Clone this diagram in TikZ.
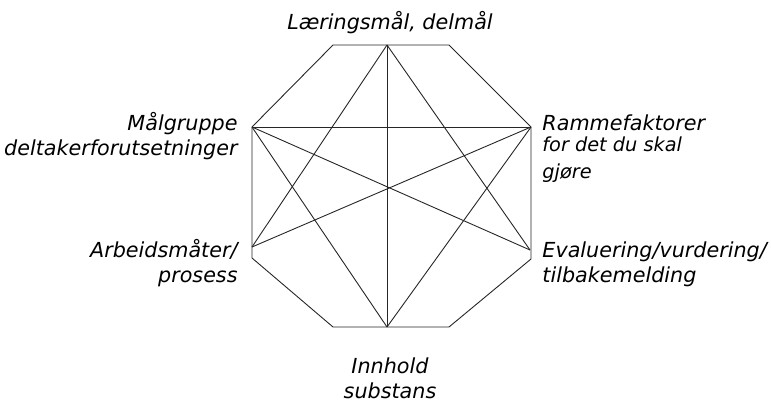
\documentclass[tikz,border=0pt]{standalone}
\usepackage{fontspec}
\setmainfont{DejaVu Sans}
\usetikzlibrary{positioning}

\begin{document}
\begin{tikzpicture}[x=1pt, y=-1pt, line width=0.9pt, color=black!85,
    lbl/.style={font=\fontsize{20.7}{25}\selectfont\itshape, inner sep=0pt, text=black},
    note/.style={font=\fontsize{19.3}{27}\selectfont\itshape, inner sep=0pt, text=black, align=left}]
\useasboundingbox (0,0) rectangle (771,412);

% Octagon
\draw (333,45) -- (449,45) -- (531,127) -- (531,259) -- (449,327) -- (333,327)
  -- (252,258) -- (252,127) -- cycle;

% Star points
\coordinate (top) at (387,45);
\coordinate (upright) at (531,127);
\coordinate (lowright) at (530,250);
\coordinate (bottom) at (387,327);
\coordinate (lowleft) at (252,247);
\coordinate (upleft) at (252,127);

% Lines between the points
\draw (top) -- (bottom);
\draw (top) -- (lowleft);
\draw (top) -- (lowright);
\draw (upleft) -- (upright);
\draw (upleft) -- (lowright);
\draw (upleft) -- (bottom);
\draw (upright) -- (lowleft);
\draw (upright) -- (bottom);

% Labels (base = last line)
\node[lbl, anchor=base] (goals) at (390,30) {Læringsmål, delmål};
\node[lbl, anchor=base east, align=right] (group) at (238,155) {Målgruppe\\deltakerforutsetninger};
\node[lbl, anchor=base west] (frame) at (542,130) {Rammefaktorer};
\node[note, anchor=base west] (framenote) at (542,178) {for det du skal\\gjøre};
\node[lbl, anchor=base east, align=right] (methods) at (238,282) {Arbeidsmåter/\\prosess};
\node[lbl, anchor=base west, align=left] (evaluation) at (542,282) {Evaluering/vurdering/\\tilbakemelding};
\node[lbl, anchor=base, align=center] (content) at (390,398) {Innhold\\substans};

\end{tikzpicture}
\end{document}
